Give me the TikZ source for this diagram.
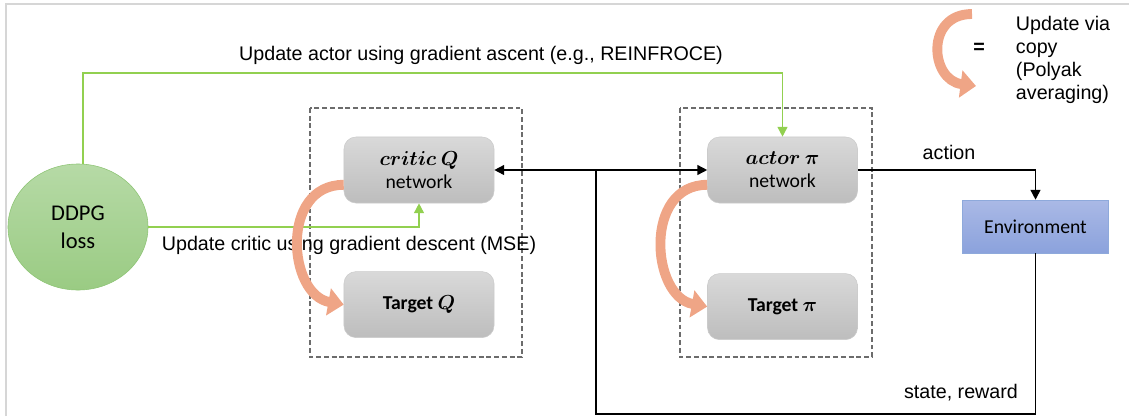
\documentclass[tikz,border=0pt]{standalone}
\usepackage{fontspec}
\setmainfont{Liberation Sans}
\newfontfamily\calibri{Carlito}
\usepackage{amsmath}
\usepackage{tikz}
\usetikzlibrary{positioning,shapes.geometric,arrows.meta}

\definecolor{updgreen}{HTML}{92D050}
\definecolor{losstop}{HTML}{B6DAA6}
\definecolor{lossbot}{HTML}{9ACB83}
\definecolor{lossedge}{HTML}{8DC474}
\definecolor{nettop}{HTML}{D9D9D9}
\definecolor{netbot}{HTML}{BDBDBD}
\definecolor{netedge}{HTML}{CBCBCB}
\definecolor{envtop}{HTML}{AAB9E6}
\definecolor{envbot}{HTML}{8BA2DC}
\definecolor{envedge}{HTML}{8EA9DB}
\definecolor{copyorange}{HTML}{EFA586}
\definecolor{framegray}{HTML}{D6D6D6}

\begin{document}
\begin{tikzpicture}[x=0.025cm, y=-0.025cm, font=\fontsize{14pt}{16.5pt}\selectfont,
  net/.style={rectangle, rounded corners=0.3cm, draw=netedge, top color=nettop, bottom color=netbot, minimum width=3.75cm, minimum height=1.65cm, align=center, font=\calibri\fontsize{14pt}{16.5pt}\selectfont},
  upd/.style={draw=updgreen, line width=1.1pt, -{Triangle[length=7pt,width=7pt]}},
  flow/.style={draw=black, line width=1.1pt, -{Triangle[length=7pt,width=7pt]}},
  copyarrow/.style={draw=copyorange, line width=7pt, -{Triangle[length=11pt,width=19pt]}},
  dashbox/.style={draw=gray!85!black, line width=0.8pt, dash pattern=on 3.5pt off 2pt}]
\useasboundingbox (0,0) rectangle (1129,416);
\draw[framegray, line width=1pt] (6,416) -- (6,4) -- (1129,4);

% loss and networks
\node[ellipse, draw=lossedge, top color=losstop, bottom color=lossbot, minimum width=3.5cm, minimum height=3.15cm, inner sep=0pt, align=center, font=\calibri\fontsize{16pt}{20pt}\selectfont] (loss) at (78,227) {DDPG\\loss};
\node[net] (critic) at (419,170) {$\boldsymbol{critic\ Q}$\\network};
\node[net, below=1.7cm of critic] (tq) {\textbf{Target} $\boldsymbol{Q}$};
\node[net] (actor) at (782.5,170) {$\boldsymbol{actor\ \pi}$\\network};
\node[net, below=1.75cm of actor] (tpi) {\textbf{Target} $\boldsymbol{\pi}$};
\node[rectangle, draw=envedge, top color=envtop, bottom color=envbot, minimum width=3.65cm, minimum height=1.325cm, font=\calibri\fontsize{14pt}{16.5pt}\selectfont] (env) at (1035.5,226.5) {Environment};

\draw[dashbox] (310,108) rectangle (522,357);
\draw[dashbox] (680,108) rectangle (872,357);

% labels
\node (actLbl) at (481,55) {Update actor using gradient ascent (e.g., REINFROCE)};
\node (critLbl) at (349,245) {Update critic using gradient descent (MSE)};
\node (actionLbl) at (949,152) {action};
\node (stateLbl) at (961,393) {state, reward};

% legend
\coordinate (lgA) at (972,14);
\coordinate (lgB) at (976,86);
\node[font=\bfseries\fontsize{14pt}{16.5pt}\selectfont] (lgEq) at (979,48) {=};
\node[align=left, anchor=west] (lgTxt) at (1011,60) {Update via\\copy\\(Polyak\\averaging)};
\draw[copyarrow] (lgA) .. controls (925,14) and (930,80) .. (lgB);

% connectors
\coordinate (ttop) at (480,73);
\coordinate (split) at (596,170);
\coordinate (bot) at (800,414);
\draw[upd] ([xshift=0.125cm]loss.north) |- (ttop) -| (actor.north);
\draw[upd] (loss.east) -| (critic.south);
\draw[flow] (split) -- (critic.east);
\draw[flow] (split) -- (actor.west);
\draw[black, line width=1.1pt] (env.south) |- (bot) -| (split);
\draw[flow] (actor.east) -| (env.north);

\draw[copyarrow] ([yshift=-0.37cm]critic.west) .. controls +(-64,0) and +(-56,-10) .. (tq.west);
\draw[copyarrow] ([yshift=-0.37cm]actor.west) .. controls +(-64,0) and +(-56,-10) .. (tpi.west);
\end{tikzpicture}
\end{document}
